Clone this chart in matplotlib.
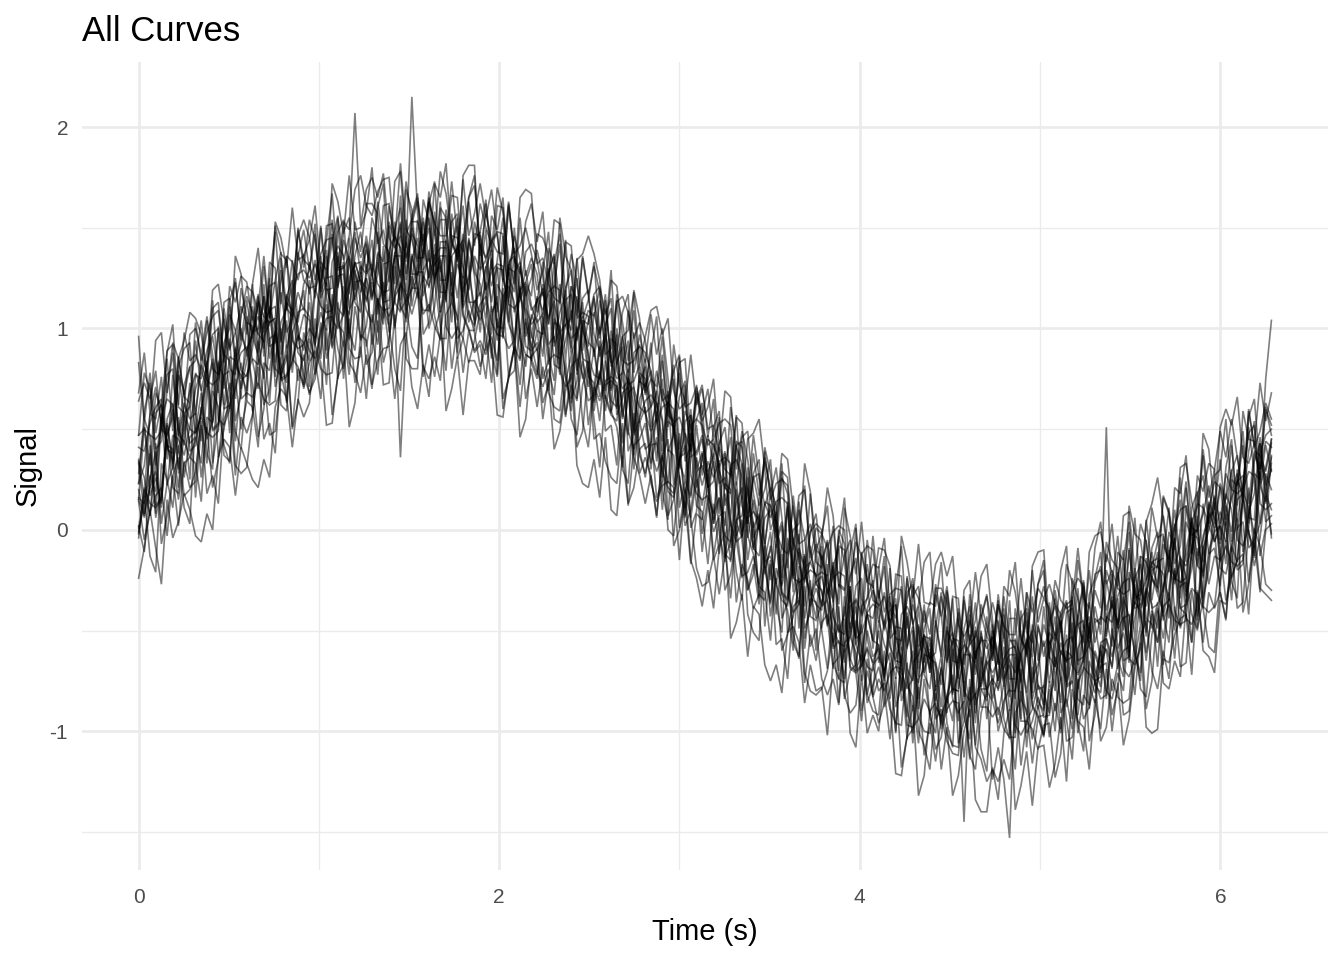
import numpy as np
import matplotlib
matplotlib.use("Agg")
import matplotlib.pyplot as plt
from matplotlib.ticker import MultipleLocator

# ---- chart text and axes ----
title = "All Curves"
x_label = "Time (s)"
y_label = "Signal"
x_ticks = [0, 2, 4, 6]
y_ticks = [-1, 0, 1, 2]

# sample times: 200 evenly spaced samples from 0 to 2*pi seconds
t_start, t_end, n_samples = 0.0, 2 * np.pi, 200

# ---- signal values, in hundredths (20 samples per line) ----
curve_01 = """
64 73 65 79 50 47 56 86 67 81 84 104 74 110 113 83 107 99 79 76
90 114 106 103 105 135 110 106 136 149 129 152 115 123 107 148 154 117 145 135
143 115 127 161 162 141 125 169 159 126 164 153 131 163 119 136 140 161 127 144
148 164 129 161 160 126 146 134 110 102 106 120 102 122 142 101 121 114 100 109
106 120 84 70 117 103 84 109 78 75 61 79 65 57 54 78 48 39 64 72
46 65 23 26 6 42 44 3 27 12 20 35 -1 29 26 -10 10 -4 -29 -37
-40 -9 -34 -3 -16 -41 -54 -12 -8 -10 -34 -13 -54 -50 -68 -31 -27 -66 -40 -52
-32 -43 -66 -34 -79 -62 -57 -36 -69 -52 -36 -47 -69 -35 -79 -61 -56 -33 -65 -47
-57 -51 -61 -65 -63 -29 -66 -32 -24 -11 -53 -35 -49 -25 -1 -37 -13 -16 -24 -11
-31 -12 -25 0 24 -12 13 11 3 17 3 28 20 18 21 51 28 25 75 104
"""
curve_02 = """
-4 21 13 11 15 45 21 18 49 63 16 52 33 69 61 42 33 80 88 91
72 46 60 95 97 78 64 110 101 70 83 89 80 77 78 113 75 109 116 128
113 130 98 132 133 101 123 112 91 85 129 135 124 134 101 95 100 126 103 114
108 123 88 76 125 113 94 121 91 89 93 63 72 103 101 77 59 101 87 52
71 91 49 52 32 68 71 30 54 40 43 55 19 5 52 38 18 43 12 9
-17 13 -12 18 4 -21 -35 6 9 5 -48 -17 -42 -12 -26 -51 -64 -23 -20 -22
-31 -44 -69 -38 -84 -70 -67 -47 -82 -67 -80 -76 -89 -96 -97 -66 -106 -74 -69 -59
-94 -89 -101 -107 -108 -75 -114 -82 -76 -65 -71 -65 -76 -64 -97 -102 -96 -68 -89 -77
-103 -86 -101 -78 -54 -92 -68 -72 -81 -68 -66 -92 -79 -44 -42 -61 -75 -29 -37 -68
-28 -19 -27 -13 -44 -47 -38 -8 -27 -13 -15 4 -26 -34 19 11 -2 29 4 7
"""
curve_03 = """
33 8 22 58 62 43 30 77 69 39 42 61 48 73 98 62 86 84 75 89
97 116 86 121 123 93 117 108 88 84 97 120 111 108 109 138 112 107 136 148
128 144 112 102 153 143 126 154 127 127 138 155 122 154 154 121 142 130 107 101
128 149 108 113 95 133 136 97 122 109 113 133 92 96 77 114 117 77 101 88
63 94 69 99 85 60 47 88 91 88 79 64 39 69 22 36 38 57 21 35
47 33 8 38 -9 5 7 26 -10 3 -22 -8 -27 -8 11 -31 -11 -19 -33 -24
-38 -35 -49 -56 -58 -28 -69 -38 -34 -25 -66 -45 -58 -65 -66 -41 -69 -76 -49 -39
-85 -69 -86 -65 -44 -83 -61 -67 -78 -67 -62 -45 -78 -44 -44 -76 -54 -64 -85 -90
-45 -38 -48 -36 -67 -72 -64 -36 -56 -43 -46 -22 -59 -51 -66 -24 -17 -53 -23 -32
-41 -16 -24 -26 -24 6 -18 -21 10 24 21 13 -6 30 -11 9 18 43 13 33
"""
curve_04 = """
68 88 58 94 98 68 93 85 66 63 94 69 83 119 122 103 89 136 127 97
122 140 110 101 153 145 130 160 134 136 144 161 130 121 172 163 147 176 149 150
158 180 142 149 133 173 178 140 215 157 135 168 146 178 167 145 133 176 181 181
130 162 138 170 158 135 122 165 169 167 132 135 122 115 113 144 103 134 137 146
137 124 99 129 82 96 99 118 82 96 109 111 97 105 69 60 63 87 62 70
50 52 38 30 27 57 15 45 48 55 30 0 8 38 35 10 -8 33 19 -16
-19 -5 -24 -4 16 -26 -6 -13 -26 -17 -19 -4 -39 -52 -3 -16 -34 -7 -36 -37
-17 -11 -23 -13 -47 -53 -47 -21 -43 -32 -65 -32 -54 -20 -31 -52 -63 -18 -11 -10
-48 -25 -35 -39 -37 -9 -34 -39 -9 4 -27 -20 -29 -32 -30 6 -31 4 13 26
6 -19 -5 31 33 14 1 48 40 10 51 60 52 66 36 33 43 73 54 68
"""
curve_05 = """
-2 17 -13 -21 33 25 11 42 17 20 29 54 18 27 13 55 62 27 56 48
57 81 45 53 38 80 87 51 80 71 95 85 65 100 57 76 82 105 73 91
65 98 77 111 101 80 69 113 120 120 76 92 76 97 119 80 101 95 83 94
109 97 73 105 60 76 79 100 65 80 61 81 68 61 59 84 55 47 72 81
45 48 34 26 23 53 12 42 45 53 33 46 10 40 37 1 20 6 -19 -28
-26 -13 -32 -13 6 -36 -17 -25 -39 -32 -35 -15 -57 -54 -74 -38 -35 -76 -52 -65
-46 -42 -56 -47 -82 -91 -87 -62 -86 -77 -68 -80 -104 -73 -118 -103 -99 -78 -112 -96
-115 -93 -105 -111 -112 -85 -112 -119 -91 -80 -124 -108 -124 -153 -79 -117 -95 -99 -109 -97
-96 -123 -111 -77 -75 -96 -110 -65 -74 -105 -98 -74 -83 -86 -84 -54 -79 -83 -52 -39
-54 -34 -64 -28 -26 -56 -31 -39 -58 -61 -25 -5 -35 1 4 -26 0 -8 -27 -30
"""
curve_06 = """
28 53 17 26 13 55 63 28 58 50 48 56 48 46 49 85 48 84 92 106
59 94 75 110 101 82 73 119 127 129 125 132 123 136 104 100 107 135 114 126
139 128 107 141 98 116 121 143 111 128 128 100 111 143 143 121 104 147 135 102
112 116 103 97 96 128 87 119 123 132 108 122 87 74 122 109 90 116 85 83
64 78 59 78 97 55 75 67 53 61 30 59 34 64 50 25 11 52 55 52
42 45 31 39 3 -6 -3 21 -4 3 -16 -13 -27 -35 -38 -8 -49 -19 -16 -7
-49 -29 -43 -50 -52 -28 -57 -65 -39 -30 -38 -33 -46 -37 -71 -79 -74 -48 -71 -61
-68 -96 -86 -54 -55 -77 -93 -50 -61 -94 -72 -100 -89 -55 -55 -76 -92 -47 -57 -89
-61 -43 -75 -41 -39 -71 -47 -57 -77 -81 -51 -33 -64 -73 -21 -29 -44 -14 -39 -37
-29 -10 -40 -48 4 -4 -18 13 -12 -9 -28 8 -11 25 17 -2 -9 38 47 50
"""
curve_07 = """
15 51 32 68 61 42 34 81 90 93 57 82 74 72 75 105 80 77 107 121
118 109 90 125 83 103 110 134 103 122 129 147 116 151 152 121 144 134 113 108
127 132 122 118 119 153 114 147 154 165 143 165 126 131 114 153 157 118 144 133
116 131 113 134 155 115 135 129 116 125 139 126 102 133 87 102 105 125 89 104
117 121 107 115 79 70 74 98 73 81 51 63 44 63 82 40 59 51 37 45
24 43 29 21 18 42 12 3 28 35 -7 13 -1 -9 -12 12 -17 -26 -1 8
-17 -47 -39 -8 -10 -35 -53 -11 -24 -59 -34 -18 -53 -22 -23 -58 -37 -49 -72 -79
-48 -31 -65 -33 -34 -67 -45 -57 -79 -85 -57 -35 -74 -67 -84 -44 -39 -76 -48 -58
-51 -34 -66 -76 -24 -34 -49 -20 -46 -44 -20 -29 -49 -14 -56 -36 -29 -5 -35 -16
-14 11 -25 -16 -31 11 19 -16 14 6 -7 12 -1 24 49 13 39 37 29 43
"""
curve_08 = """
34 26 7 43 3 23 31 56 26 46 49 68 38 30 83 75 60 91 65 68
66 73 65 62 64 100 63 98 106 119 71 105 85 120 110 90 80 125 132 133
91 107 92 115 138 100 122 117 107 118 107 112 101 95 95 128 88 120 125 136
129 134 121 131 97 90 94 120 96 105 114 118 105 114 79 71 75 100 75 84
59 79 65 57 54 78 49 40 65 73 48 16 24 54 51 26 7 48 34 -2
16 -15 -7 23 20 -5 -24 17 3 -34 -15 -1 -37 -51 -4 -18 -37 -12 -43 -45
-37 -22 -58 -27 -29 -65 -45 -58 -82 -90 -92 -60 -84 -53 -65 -89 -101 -58 -53 -54
-78 -62 -96 -108 -59 -70 -87 -60 -88 -88 -93 -88 -99 -103 -103 -69 -108 -74 -67 -55
-76 -53 -91 -84 -99 -59 -52 -89 -60 -69 -45 -37 -46 -33 -64 -67 -59 -30 -49 -36
-67 -31 -50 -14 -23 -42 -50 -3 6 9 -10 -35 -21 15 18 -1 -13 34 26 -4
"""
curve_09 = """
96 55 47 45 49 85 49 85 94 108 105 97 78 114 73 93 100 125 94 114
95 113 100 124 148 112 136 133 124 137 117 134 120 144 167 130 153 149 207 151
169 175 165 177 145 140 146 173 152 163 141 163 152 146 146 173 145 138 165 176
136 157 144 138 137 163 134 127 153 162 143 158 123 154 152 117 137 124 99 91
116 86 94 124 121 96 78 119 105 69 88 106 64 67 47 83 85 44 68 54
61 75 39 69 66 30 49 35 10 0 41 28 3 33 -14 0 3 22 -14 1
-2 12 -24 -37 11 -3 -22 4 -26 -28 -46 -31 -49 -29 -8 -49 -28 -34 -46 -36
-38 -16 -56 -51 -69 -30 -25 -64 -37 -48 -59 -37 -48 -52 -52 -24 -51 -56 -27 -15
-64 -30 -51 -17 -26 -47 -56 -11 -3 -1 -16 3 -28 7 9 -21 3 -6 -25 -29
17 9 -10 26 -16 4 12 37 7 27 30 55 19 28 14 56 65 30 60 52
"""
curve_10 = """
1 20 7 32 58 22 47 45 37 51 70 79 71 85 55 52 60 90 70 84
98 106 98 111 80 77 85 114 94 107 104 77 90 125 126 106 91 136 126 94
101 123 113 109 110 138 111 105 134 145 123 139 106 94 144 133 115 142 113 113
118 89 98 130 129 106 88 131 118 83 75 106 82 113 100 76 63 105 108 106
86 101 65 95 92 56 76 62 37 28 42 43 29 21 18 48 6 36 39 47
21 34 -2 -16 31 17 -3 22 -9 -13 6 10 -4 4 -32 -41 -37 -13 -38 -29
-37 -17 -59 -55 -74 -38 -35 -75 -50 -63 -59 -88 -79 -48 -49 -73 -90 -47 -59 -93
-101 -68 -91 -59 -71 -93 -104 -61 -55 -55 -77 -61 -94 -104 -54 -64 -81 -52 -79 -78
-55 -65 -86 -52 -94 -76 -69 -46 -77 -58 -84 -49 -69 -34 -43 -62 -71 -25 -16 -14
-45 -37 -45 -47 -45 -9 -45 -9 0 14 -16 -8 -16 -18 -15 21 -14 22 31 45
"""
curve_11 = """
16 13 27 19 56 65 62 38 63 55 58 44 80 50 53 89 69 83 107 116
108 88 102 109 111 87 116 124 98 89 113 92 133 129 147 110 106 145 119 131
127 155 145 113 114 137 153 109 121 154 116 127 149 115 159 142 136 113 145 128
122 104 135 101 100 132 108 118 138 142 134 116 130 106 82 119 95 98 106 93
90 72 102 110 57 65 80 49 74 71 79 53 61 63 60 30 54 57 26 12
30 5 41 32 46 4 -4 31 1 8 -6 -25 5 -31 -34 -4 -28 -20 -1 3
0 -35 -16 -51 -42 -23 -14 -60 -68 -70 -50 -73 -36 -44 -28 -69 -75 -38 -66 -56
-80 -69 -48 -82 -39 -56 -61 -84 -51 -68 -84 -73 -51 -83 -39 -55 -60 -81 -47 -63
-51 -55 -43 -37 -35 -67 -26 -58 -62 -71 -25 -39 -21 -41 -61 -19 -39 -32 -18 -27
-3 -16 3 -16 -36 6 -13 -5 9 1 21 2 16 24 27 3 34 43 18 10
"""
curve_12 = """
14 -5 9 17 21 -3 27 36 11 3 56 26 51 21 35 60 73 32 28 31
56 86 78 47 49 74 92 50 63 98 89 85 98 105 106 75 115 83 78 68
87 70 104 72 73 107 36 96 119 125 81 75 86 74 107 113 106 78 99 88
92 75 106 116 65 75 90 61 87 85 77 103 90 55 53 73 87 41 49 80
55 31 67 58 72 30 23 58 28 36 27 7 37 45 -8 0 14 -17 8 5
23 -13 6 -30 -22 -3 5 -42 -51 -55 -8 -43 -24 -60 -52 -33 -24 -71 -80 -82
-79 -70 -51 -86 -44 -64 -71 -95 -64 -83 -74 -80 -71 -68 -69 -104 -66 -100 -107 -119
-88 -93 -83 -79 -80 -145 -74 -108 -114 -125 -119 -125 -114 -124 -91 -84 -90 -116 -93 -103
-75 -90 -73 -94 -114 -74 -94 -88 -75 -84 -82 -52 -61 -92 -90 -65 -47 -89 -75 -40
-76 -79 -65 -73 -38 -29 -32 -56 -31 -39 -31 -44 -8 6 -41 -27 -6 -31 0 3
"""
curve_13 = """
47 78 70 40 44 69 88 47 61 97 100 87 106 87 68 110 90 98 111 103
101 86 122 91 93 129 109 122 146 154 145 124 137 144 145 120 148 155 128 118
142 126 160 172 123 135 152 124 153 153 142 125 158 124 124 157 134 144 165 171
142 119 156 149 165 125 118 155 126 135 127 103 140 132 147 106 99 135 105 114
133 98 117 81 89 108 117 70 61 58 61 68 87 51 92 72 64 39 69 49
29 37 56 20 61 41 33 8 38 17 36 18 31 6 -19 17 -7 -5 3 -10
-2 -9 -1 2 0 -36 1 -34 -42 -55 -18 -41 -32 -29 -30 -59 -33 -28 -57 -69
-27 -43 -28 -51 -74 -35 -57 -53 -42 -53 -58 -75 -42 -74 -74 -40 -62 -50 -27 -20
-63 -68 -56 -66 -31 -24 -28 -54 -30 -39 51 -52 -11 -15 4 -32 -35 5 -19 -6
7 -12 2 10 12 -12 18 27 2 -6 3 17 42 12 59 45 44 25 61 47
"""
curve_14 = """
20 6 42 12 16 52 33 47 72 81 56 87 79 49 52 77 95 54 67 103
84 70 106 119 71 85 104 78 108 110 106 91 126 139 90 103 121 94 123 124
120 98 138 133 151 113 108 146 120 131 153 120 142 108 119 141 151 106 99 99
148 114 134 100 110 131 140 95 87 85 116 109 118 121 119 84 121 86 77 64
67 76 95 59 100 80 73 48 78 58 39 29 37 23 53 56 47 17 36 22
34 26 34 36 33 -3 33 -3 -12 -27 -8 18 4 -32 -35 -16 -2 -49 -41 -10
-13 -31 -18 -42 -66 -30 -54 -51 -42 -55 -57 -74 -43 -34 -85 -76 -60 -89 -62 -63
-87 -93 -83 -95 -63 -57 -63 -91 -69 -80 -47 -80 -58 -90 -79 -56 -45 -88 -93 -92
-52 -73 -61 -55 -53 -79 -50 -43 -69 -78 -43 -46 -33 -26 -24 -54 -13 -44 -47 -56
-32 -1 -9 -39 -37 -12 7 -34 -20 16 -19 -22 -8 -16 20 29 27 3 28 20
"""
curve_15 = """
2 -11 25 39 -7 7 27 2 33 36 33 14 56 53 73 37 34 75 50 64
61 41 83 79 98 62 59 99 74 87 67 79 103 72 117 102 98 77 111 95
125 92 115 83 95 118 129 85 80 80 124 108 124 101 79 118 95 99 109 98
81 91 111 77 120 102 95 72 103 84 99 75 84 87 85 56 81 85 54 41
71 64 72 74 71 35 72 36 27 13 27 6 36 0 -3 27 2 10 29 32
22 3 16 -9 -34 2 -23 -21 -13 -28 -31 -55 -19 -28 -14 -56 -63 -28 -58 -49
-74 -82 -74 -87 -56 -53 -61 -90 -70 -83 -96 -86 -66 -101 -58 -77 -83 -106 -74 -92
-77 -99 -89 -85 -86 -113 -86 -81 -109 -120 -76 -92 -76 -97 -119 -80 -101 -95 -83 -93
-92 -63 -73 -105 -103 -80 -62 -105 -92 -57 -60 -80 -67 -60 -58 -82 -53 -45 -70 -79
-60 -74 -38 -68 -66 -30 -49 -35 -10 -1 -31 -45 -9 -39 -36 0 -18 -4 21 30
"""
curve_16 = """
35 16 58 55 76 40 38 79 55 69 77 75 89 97 100 70 111 81 77 69
122 91 116 85 98 123 136 94 90 92 100 95 108 99 133 141 136 110 133 123
114 125 148 116 161 145 140 118 152 135 135 163 152 118 118 140 155 110 120 153
141 135 144 148 147 113 150 116 108 95 115 97 128 137 85 94 109 79 104 102
115 97 110 85 60 96 72 74 82 68 93 56 75 39 47 66 74 27 18 15
17 8 16 2 32 35 26 -4 15 0 13 6 14 16 13 -23 14 -22 -31 -44
-8 -32 -24 -21 -23 -53 -28 -24 -54 -67 -63 -70 -61 -74 -42 -38 -45 -73 -52 -64
-61 -33 -45 -79 -80 -58 -42 -87 -76 -43 -65 -37 -48 -80 -80 -57 -41 -84 -72 -38
-64 -80 -46 -78 -76 -42 -62 -50 -26 -18 -44 -58 -23 -10 -58 -44 -25 -51 -20 -18
-22 -35 1 15 -33 -19 1 -24 7 10 35 5 30 0 14 39 54 13 10 13
"""
curve_17 = """
83 53 78 48 63 88 102 61 58 61 103 84 98 106 109 85 114 123 97 89
98 111 136 105 151 137 134 114 149 134 131 115 150 119 120 155 134 146 169 176
161 156 168 174 175 143 182 149 144 133 155 133 172 165 182 143 137 174 146 157
172 155 169 146 123 161 137 141 150 137 119 128 148 113 155 136 129 105 135 116
97 89 97 83 113 116 108 78 97 83 107 87 100 75 50 86 61 63 71 57
70 45 53 55 52 22 46 49 18 3 39 15 23 25 22 -8 17 20 -11 -24
-5 21 7 -28 -30 -11 3 -43 -34 -3 -32 -50 -19 -54 -55 -24 -47 -37 -16 -11
-46 -63 -31 -65 -66 -33 -55 -45 -23 -17 -45 -67 -28 -33 -16 -54 -59 -20 -46 -34
-39 -54 -20 -8 -56 -44 -25 -52 -22 -20 -40 -27 -3 -34 12 -2 -5 -25 11 -4
-2 -21 21 18 37 1 -1 40 16 30 49 36 55 36 17 59 41 49 63 55
"""
curve_18 = """
-1 13 38 8 56 42 40 21 57 43 46 33 69 83 36 50 69 44 74 77
85 82 96 103 105 75 116 85 81 72 124 92 116 85 97 121 133 90 85 86
132 116 133 112 91 131 109 114 126 115 126 121 132 136 136 103 141 107 100 89
94 87 96 84 116 121 113 85 105 92 79 71 80 67 98 102 94 65 84 71
90 66 74 76 73 43 68 71 40 26 45 69 55 19 16 35 48 1 9 39
13 38 24 -12 -15 4 17 -30 -22 7 -18 -36 -6 2 -51 -43 -28 -59 -34 -36
-50 -69 -39 -74 -76 -46 -70 -61 -41 -37 -39 -73 -53 -88 -78 -58 -48 -93 -100 -101
-81 -97 -65 -55 -106 -95 -78 -107 -79 -79 -74 -79 -68 -62 -62 -94 -55 -87 -92 -102
-79 -100 -60 -65 -46 -84 -87 -48 -73 -60 -80 -84 -71 -80 -45 -36 -40 -65 -40 -49
-14 -44 -19 -49 -36 -11 3 -38 -41 -38 -13 18 10 -20 -17 8 28 -13 1 37
"""
curve_19 = """
41 39 53 61 65 35 77 47 44 36 45 59 84 54 101 87 84 65 100 86
111 97 116 96 76 118 98 105 118 109 133 118 136 116 95 136 115 121 133 123
109 103 115 105 139 146 140 113 136 125 147 125 136 140 140 113 139 144 115 104
142 119 128 132 131 103 128 133 103 90 105 86 117 82 80 111 87 96 115 119
88 114 100 64 61 80 94 47 55 85 60 34 70 61 75 33 25 60 30 38
23 3 33 -3 -6 24 -1 7 26 28 -19 -10 9 -27 14 -6 -13 -38 -8 -27
-30 -48 -18 -9 -61 -53 -38 -68 -42 -44 -30 -47 -33 -57 -80 -43 -66 -62 -52 -64
-66 -88 -50 -57 -41 -80 -85 -48 -75 -64 -53 -75 -64 -59 -58 -84 -57 -50 -77 -87
-36 -68 -45 -77 -64 -41 -28 -71 -75 -73 -54 -69 -34 -65 -63 -27 -47 -34 -9 -1
-43 -29 -4 -34 12 -2 -4 -23 13 -1 2 -17 25 22 42 6 5 46 22 36
"""
curve_20 = """
-24 -9 10 -9 -27 15 -4 4 18 10 -3 -6 8 0 36 45 41 17 41 33
25 21 35 26 61 70 66 41 65 56 63 92 83 52 53 77 94 51 63 97
94 72 84 90 91 65 92 98 71 60 82 66 99 109 59 70 86 57 84 84
77 104 91 57 56 77 91 46 55 86 90 55 75 40 49 69 78 32 23 21
35 16 46 10 7 37 13 21 40 43 23 14 22 24 21 -15 21 -15 -24 -38
-20 -39 -9 -1 -54 -46 -32 -63 -38 -42 -67 -75 -67 -81 -51 -48 -56 -86 -67 -80
-78 -102 -66 -74 -59 -101 -108 -72 -101 -92 -100 -73 -86 -121 -122 -102 -87 -132 -122 -90
-86 -119 -98 -132 -122 -100 -89 -134 -140 -140 -118 -134 -101 -89 -139 -127 -110 -137 -108 -107
-128 -116 -93 -125 -79 -95 -98 -119 -84 -99 -69 -100 -76 -107 -94 -69 -56 -98 -101 -99
-64 -66 -52 -44 -42 -72 -30 -60 -63 -71 -35 -37 -23 -15 -12 -42 1 -29 -32 -35
"""
curve_21 = """
23 32 57 71 53 89 92 62 98 84 87 79 104 80 77 86 121 113 126 123
104 117 93 133 130 94 113 109 150 130 154 144 118 126 154 129 130 136 148 127
146 129 163 142 138 122 166 133 156 167 129 162 173 128 144 166 165 131 119 147
146 134 143 147 124 162 138 115 129 111 103 107 127 136 112 143 141 106 136 117
131 118 87 90 114 84 82 84 92 67 75 71 96 65 79 87 34 42 72 53
21 24 43 51 26 56 53 17 47 26 12 21 -9 26 18 -24 -9 -18 18 -6
-15 -6 -36 0 -7 -49 -34 -42 -5 -29 -9 -10 -18 -64 -54 -34 -24 -58 -37 -71
-45 -62 -30 -53 -59 -76 -32 -66 -44 -33 -49 -66 -33 -54 -59 -75 -31 -63 -40 -28
-43 -53 -41 -35 -55 -15 -35 -56 -38 -52 -6 -15 -19 -50 -9 -39 -37 -30 -16 -19
16 8 -17 -8 21 -3 0 8 22 3 23 15 29 37 18 60 42 23 42 29
"""
curve_22 = """
47 50 47 6 21 46 60 30 55 25 78 70 45 54 84 60 62 70 83 64
106 97 94 63 104 74 76 83 96 93 84 118 131 89 106 130 131 99 89 118
125 114 137 111 106 113 146 135 147 141 97 103 125 135 113 146 145 111 143 126
98 130 139 94 109 130 128 94 81 107 99 97 123 93 108 117 65 74 104 86
77 75 100 69 83 91 39 47 77 58 49 56 26 61 53 11 25 16 52 27
45 42 33 -14 -6 13 21 -15 4 -33 14 12 3 -44 -36 -17 -8 -44 -25 -60
-13 -26 -35 -70 -33 -69 -71 -68 -59 -66 -57 -75 -44 -68 -74 -93 -50 -84 -63 -53
-66 -77 -56 -84 -91 -85 -52 -64 -53 -59 -53 -64 -70 -102 -63 -95 -95 -89 -77 -81
-91 -57 -45 -88 -70 -47 -45 -77 -86 -56 -54 -63 -50 -43 -63 -21 -41 -61 -42 -56
-38 -35 -4 -29 -10 4 -43 -29 7 -6 2 -6 19 -5 -8 1 38 30 44 41
"""
curve_23 = """
15 7 21 29 11 53 34 15 34 21 24 60 74 33 52 77 79 49 40 71
96 87 62 70 99 75 77 84 97 77 68 75 99 112 91 126 127 95 129 113
82 88 111 123 102 136 136 103 137 120 109 109 137 108 125 136 85 95 127 111
104 114 85 122 116 76 91 84 121 97 89 98 69 105 98 57 72 64 100 76
73 54 84 59 51 31 73 37 56 64 67 63 54 7 15 34 42 6 25 -11
13 -1 7 9 -16 20 -5 -30 -17 -37 -18 -37 -7 -32 -40 -60 -18 -54 -35 -26
-23 -36 -67 -63 -38 -68 -70 -67 -58 -82 -45 -57 -65 -100 -62 -97 -98 -94 -84 -90
-109 -103 -82 -72 -95 -62 -62 -96 -63 -80 -85 -96 -85 -79 -101 -61 -83 -104 -87 -102
-85 -73 -99 -60 -63 -101 -82 -87 -46 -66 -59 -68 -44 -69 -73 -64 -29 -38 -24 -28
-42 -56 -20 -39 -42 -56 -9 -39 -14 0 9 1 -24 -15 15 -9 -5 3 17 -2
"""
curve_24 = """
23 59 73 32 52 77 80 50 42 73 48 57 82 96 77 113 115 85 120 106
98 100 131 105 124 138 90 103 138 124 120 121 151 125 143 156 107 119 153 138
162 162 157 114 126 149 160 127 150 117 139 150 123 160 155 116 132 125 163 141
162 150 142 108 146 112 110 114 123 116 147 145 137 91 100 120 129 94 113 78
108 95 114 84 75 78 109 95 103 94 75 54 84 59 51 31 72 36 55 63
21 51 59 12 25 44 41 5 -9 15 34 21 12 -24 12 -24 -26 -24 -16 -23
-21 -23 2 -28 -13 -5 -57 -48 -17 -35 -37 -49 -40 -37 -60 -23 -46 -69 -54 -71
-29 -29 -36 -81 -71 -49 -38 -72 -50 -83 -50 -61 -39 -65 -71 -64 -31 -41 -29 -34
-27 -37 -42 -74 -33 -65 -63 -57 -44 -47 -12 -21 -47 -39 -10 -34 -32 -25 -11 -31
-7 -15 10 -14 -18 -9 27 19 33 30 -5 31 45 4 23 48 52 22 14 45
"""

curves = [curve_01, curve_02, curve_03, curve_04, curve_05, curve_06,
          curve_07, curve_08, curve_09, curve_10, curve_11, curve_12,
          curve_13, curve_14, curve_15, curve_16, curve_17, curve_18,
          curve_19, curve_20, curve_21, curve_22, curve_23, curve_24]

# ---- style ----
plt.rcParams['font.family'] = ['Liberation Sans', 'DejaVu Sans']
GRID = '#EBEBEB'
TICK_TXT = '#4D4D4D'

fig = plt.figure(figsize=(13.44, 9.6), dpi=100)
ax = fig.add_axes([82 / 1344, 1 - 870 / 960, (1328 - 82) / 1344, (870 - 62) / 960])

time = np.linspace(t_start, t_end, n_samples)
for s in curves:
    y = np.array(s.split(), dtype=float) / 100.0
    ax.plot(time, y, color='black', alpha=0.5, lw=1.2, solid_joinstyle='miter')

ax.set_xlim(-0.314, 6.597)
ax.set_ylim(-1.689, 2.323)
ax.set_xticks(x_ticks)
ax.set_yticks(y_ticks)
ax.set_yticklabels([str(v) for v in y_ticks])
ax.xaxis.set_minor_locator(MultipleLocator(1))
ax.yaxis.set_minor_locator(MultipleLocator(0.5))
ax.set_axisbelow(True)
ax.grid(which='major', color=GRID, lw=1.9)
ax.grid(which='minor', color=GRID, lw=0.95)
for sp in ax.spines.values():
    sp.set_visible(False)
ax.tick_params(which='both', length=0)
ax.tick_params(axis='x', which='major', labelsize=15, labelcolor=TICK_TXT, pad=13)
ax.tick_params(axis='y', which='major', labelsize=15, labelcolor=TICK_TXT, pad=10)

ax.set_xlabel(x_label, fontsize=21, labelpad=8)
ax.set_ylabel(y_label, fontsize=21, labelpad=6)
ax.set_title(title, loc='left', fontsize=25, pad=15)

fig.savefig('out.png', dpi=100, facecolor='white')
